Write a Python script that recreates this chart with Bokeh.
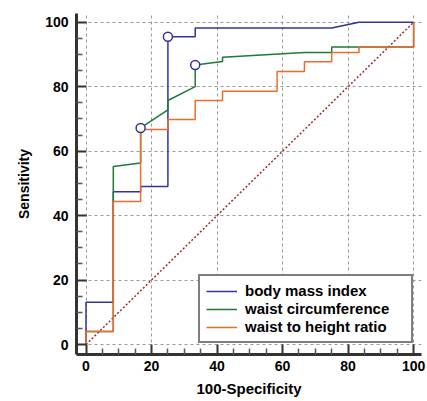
from bokeh.plotting import figure
from bokeh.models import Range1d, FixedTicker, Legend, LegendItem
from bokeh.embed import file_html
from bokeh.resources import INLINE

# ---- data ----
bmi_x = [0, 0, 8.33, 8.33, 16.67, 16.67, 25, 25, 33.33, 33.33, 75, 83.33, 100]
bmi_y = [0, 13.1, 13.1, 47.4, 47.4, 49.0, 49.0, 95.5, 95.5, 98.2, 98.2, 100, 100]

wc_x = [0, 0, 8.33, 8.33, 16.67, 16.67, 25, 25, 33.33, 33.33, 41.67, 41.67, 66.67, 75, 75, 100, 100]
wc_y = [0, 4.0, 4.0, 55.2, 56.3, 67.2, 72.8, 75.7, 80.0, 86.7, 87.8, 89.1, 90.6, 90.6, 92.3, 92.3, 100]

whr_x = [0, 0, 8.33, 8.33, 16.67, 16.67, 25, 25, 33.33, 33.33, 41.67, 41.67, 58.33, 58.33,
         66.67, 66.67, 75, 75, 83.33, 83.33, 100, 100]
whr_y = [0, 4.0, 4.0, 44.4, 44.4, 66.7, 66.7, 69.8, 69.8, 75.7, 75.7, 78.6, 78.6, 84.7,
         84.7, 87.7, 87.7, 90.6, 90.6, 92.3, 92.3, 100]

cut_x = [25, 33.33, 16.67]
cut_y = [95.5, 86.7, 67.2]

diag_x = [0, 100]
diag_y = [0, 100]

major_ticks = [0, 20, 40, 60, 80, 100]
minor_ticks = [v for v in range(0, 101, 5) if v % 20 != 0]

names = ["body mass index", "waist circumference", "waist to height ratio"]
colors = ["#333399", "#1f7a3a", "#f26b2c"]

FONT = "Liberation Sans"

p = figure(width=427, height=401, output_backend="svg", toolbar_location=None,
           x_range=Range1d(-2.9, 102.4), y_range=Range1d(-3.1, 102.7),
           min_border_left=76, min_border_right=6, min_border_top=13, min_border_bottom=47)
p.outline_line_color = None
p.background_fill_color = "white"
p.border_fill_color = "white"

for ax in (p.xaxis[0], p.yaxis[0]):
    ax.ticker = FixedTicker(ticks=major_ticks, minor_ticks=minor_ticks)
    ax.axis_line_color = "#333333"
    ax.axis_line_width = 3
    ax.major_tick_line_color = "#333333"
    ax.major_tick_line_width = 2
    ax.minor_tick_line_color = "#555555"
    ax.minor_tick_line_width = 1.5
    ax.major_tick_in = 10
    ax.major_tick_out = 0
    ax.minor_tick_in = 6
    ax.minor_tick_out = 0
    ax.major_label_text_font = FONT
    ax.major_label_text_font_style = "bold"
    ax.major_label_text_font_size = "14px"
    ax.major_label_text_color = "black"
    ax.axis_label_text_font = FONT
    ax.axis_label_text_font_style = "bold"
    ax.axis_label_text_color = "black"

p.xaxis.axis_label = "100-Specificity"
p.xaxis.axis_label_text_font_size = "15px"
p.xaxis.major_label_standoff = 6
p.xaxis.axis_label_standoff = 6
p.yaxis.axis_label = "Sensitivity"
p.yaxis.axis_label_text_font_size = "14px"
p.yaxis.major_label_standoff = 8
p.yaxis.axis_label_standoff = 10

for g in (p.xgrid[0], p.ygrid[0]):
    g.grid_line_color = "#999999"
    g.grid_line_dash = "3 3"
    g.grid_line_width = 1

# reference diagonal
p.line(diag_x, diag_y, line_color="#9b2d2d", line_dash="2 2", line_width=1.5)

r_bmi = p.line(bmi_x, bmi_y, line_color=colors[0], line_width=1.5)
r_wc = p.line(wc_x, wc_y, line_color=colors[1], line_width=1.5)
r_whr = p.line(whr_x, whr_y, line_color=colors[2], line_width=1.5)

p.scatter(cut_x, cut_y, marker="circle", size=9, fill_color="white",
          line_color="#333399", line_width=1.5)

legend = Legend(items=[LegendItem(label=names[0], renderers=[r_bmi]),
                       LegendItem(label=names[1], renderers=[r_wc]),
                       LegendItem(label=names[2], renderers=[r_whr])],
                location=(122, 11))
legend.border_line_color = "black"
legend.border_line_width = 2
legend.background_fill_color = "white"
legend.background_fill_alpha = 1
legend.label_text_font = FONT
legend.label_text_font_style = "bold"
legend.label_text_font_size = "15px"
legend.label_text_color = "black"
legend.glyph_width = 31
legend.glyph_height = 16
legend.label_height = 16
legend.label_width = 160
legend.label_standoff = 8
legend.padding = 6
legend.spacing = 1
legend.margin = 0
p.add_layout(legend, "center")

open("out.html", "w").write(file_html(p, INLINE))
